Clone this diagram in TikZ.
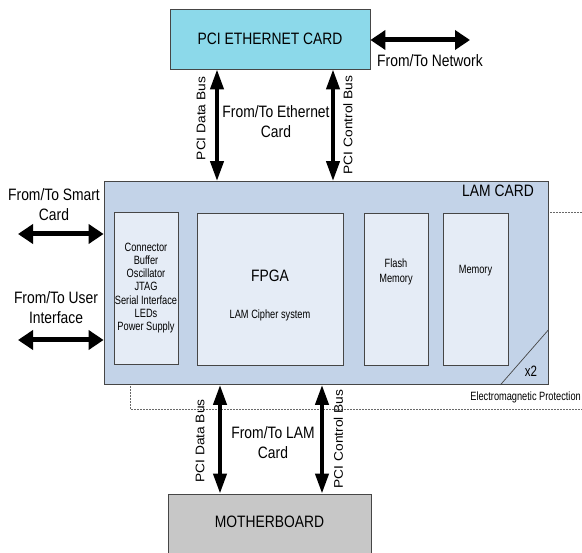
\documentclass[tikz,border=0pt]{standalone}
\usepackage{fontspec}
\setmainfont[FakeStretch=0.84]{Liberation Sans}
\newfontfamily\partfont[FakeStretch=0.77]{Liberation Sans}
\newfontfamily\sidefont[FakeStretch=1.1]{Liberation Sans}
\usetikzlibrary{arrows.meta}

\definecolor{ethcyan}{RGB}{140,217,234}
\definecolor{lamblue}{RGB}{195,211,232}
\definecolor{partblue}{RGB}{229,236,246}
\definecolor{boardgrey}{RGB}{199,199,199}
\definecolor{edgegrey}{RGB}{70,70,70}
\definecolor{shieldgrey}{RGB}{105,105,105}

\begin{document}
\begin{tikzpicture}[
    x=1pt, y=-1pt,
    card/.style={draw=edgegrey, line width=0.8pt, inner sep=0pt},
    part/.style={card, fill=partblue, minimum height=152},
    biglabel/.style={font=\fontsize{16.5}{20}\selectfont, align=center, inner sep=0pt},
    smalllabel/.style={font=\partfont\fontsize{12}{13.2}\selectfont, align=center, inner sep=0pt},
    buslabel/.style={font=\sidefont\fontsize{12.5}{13}\selectfont, rotate=90, inner sep=0pt},
    hbus/.style={line width=5pt, {Triangle[length=15pt,width=19pt]}-{Triangle[length=15pt,width=19pt]}},
    vbus/.style={line width=4pt, {Triangle[length=20pt,width=13pt]}-{Triangle[length=20pt,width=13pt]}},
    shield/.style={draw=shieldgrey, line width=0.8pt, dash pattern=on 2pt off 1pt}
  ]
  \path[use as bounding box, clip] (0,0) rectangle (582,553);

  % shielding around the lam card
  \draw[shield] (130,212) rectangle (600,409);
  \node (emp) [smalllabel, anchor=east] at (581,397) {Electromagnetic Protection};

  \node (eth) [card, fill=ethcyan, minimum width=200, minimum height=60, biglabel] at (270,39) {PCI ETHERNET CARD};

  \node (lam) [card, fill=lamblue, minimum width=444, minimum height=203] at (326,283) {};
  \node (lamtitle) [biglabel, anchor=east] at (534,191) {LAM CARD};
  \draw[edgegrey, line width=0.7pt] (lam.south east) ++(-48,0) -- ++(48,-55);
  \node (copies) [smalllabel, font=\partfont\fontsize{15}{15}\selectfont] at (531,371) {x2};

  \node (aux) [part, smalllabel, minimum width=64] at (146,288) {Connector\\Buffer\\Oscillator\\JTAG\\Serial Interface\\LEDs\\Power Supply};
  \node (fpga) [part, minimum width=146] at (270,289) {};
  \node (fpgatitle) [biglabel] at (270,276) {FPGA};
  \node (cipher) [smalllabel] at (270,315) {LAM Cipher system};
  \node (flash) [part, minimum width=64] at (396,289) {};
  \node (flashlabel) [smalllabel, font=\partfont\fontsize{12}{15}\selectfont] at (396,272) {Flash\\Memory};
  \node (mem) [part, minimum width=65] at (475.5,289) {};
  \node (memlabel) [smalllabel] at (475.5,271) {Memory};

  \node (mb) [card, fill=boardgrey, minimum width=203, minimum height=70] at (269.5,529) {};
  \node (mblabel) [biglabel] at (269.5,522) {MOTHERBOARD};

  % buses
  \coordinate (net) at (470,40);
  \coordinate (smart) at (18,234);
  \coordinate (user) at (18,340);
  \coordinate (ethdata) at (217,0);
  \coordinate (ethctrl) at (333,0);
  \coordinate (mbdata) at (220,0);
  \coordinate (mbctrl) at (322,0);
  \draw[hbus] (eth.east |- net) -- (net);
  \draw[hbus] (smart) -- (smart -| lam.west);
  \draw[hbus] (user) -- (user -| lam.west);
  \draw[vbus] (eth.south -| ethdata) -- (lam.north -| ethdata);
  \draw[vbus] (eth.south -| ethctrl) -- (lam.north -| ethctrl);
  \draw[vbus] (lam.south -| mbdata) -- (mb.north -| mbdata);
  \draw[vbus] (lam.south -| mbctrl) -- (mb.north -| mbctrl);

  \node (netlabel) [biglabel] at (430,61) {From/To Network};
  \node (smartlabel) [biglabel] at (54,205) {From/To Smart\\Card};
  \node (userlabel) [biglabel] at (56,308) {From/To User\\Interface};
  \node (ethbus) [biglabel] at (276,122) {From/To Ethernet\\Card};
  \node (lambus) [biglabel] at (273,443) {From/To LAM\\Card};

  \node (ethdatalabel) [buslabel] at (201,118.5) {PCI Data Bus};
  \node (ethctrllabel) [buslabel] at (348,125) {PCI Control Bus};
  \node (mbdatalabel) [buslabel] at (200,441) {PCI Data Bus};
  \node (mbctrllabel) [buslabel] at (338.5,439) {PCI Control Bus};
\end{tikzpicture}
\end{document}
